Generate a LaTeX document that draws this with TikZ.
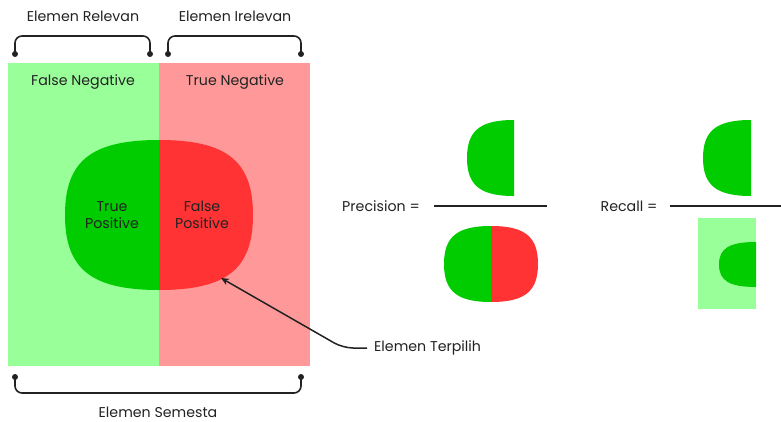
\documentclass[tikz,border=0pt]{standalone}
\usepackage{fontspec}
\setmainfont{Poppins}
\usetikzlibrary{arrows.meta}
\definecolor{lgreen}{HTML}{99FF99}
\definecolor{lred}{HTML}{FF9999}
\definecolor{dgreen}{HTML}{00CC00}
\definecolor{dred}{HTML}{FF3333}
\definecolor{ink}{HTML}{222222}
\tikzset{
  lbl/.style={text=ink, font=\fontsize{14.2}{17}\selectfont, inner sep=1pt},
  brace/.style={draw=ink, line width=1.6pt, rounded corners=7pt},
  dot/.style={circle, fill=ink, inner sep=0pt, minimum size=6pt},
}
\begin{document}
\begin{tikzpicture}[x=1pt, y=-1pt, >=stealth]
    \useasboundingbox (0,0) rectangle (781,422);

    % Latar: elemen relevan dan irelevan
    \fill[lgreen] (8,63) rectangle (159,366);
    \fill[lred] (159,63) rectangle (310,366);

    % Gumpalan elemen terpilih
    \begin{scope}[shift={(159,215)}, xscale=94, yscale=75]
        \fill[dgreen] (0,-1) .. controls (-0.72,-1) and (-1,-0.72) .. (-1,0)
            .. controls (-1,0.72) and (-0.72,1) .. (0,1) -- cycle;
        \fill[dred] (0,-1) .. controls (0.72,-1) and (1,-0.72) .. (1,0)
            .. controls (1,0.72) and (0.72,1) .. (0,1) -- cycle;
    \end{scope}

    % Label di dalam kotak
    \node[lbl] (fn) at (83,82) {False Negative};
    \node[lbl] (tn) at (235,82) {True Negative};
    \node[lbl, align=center] (tp) at (112,215) {True\\Positive};
    \node[lbl, align=center] (fp) at (202,215) {False\\Positive};

    % Kurung atas
    \node[lbl] (rel) at (83,16) {Elemen Relevan};
    \node[lbl] (irel) at (235,16) {Elemen Irelevan};
    \node[dot] (r1) at (15,54) {};
    \node[dot] (r2) at (150,54) {};
    \node[dot] (i1) at (168,54) {};
    \node[dot] (i2) at (301,54) {};
    \draw[brace] (r1.center) -- (15,36) -- (150,36) -- (r2.center);
    \draw[brace] (i1.center) -- (168,36) -- (301,36) -- (i2.center);

    % Kurung bawah
    \node[dot] (s1) at (15,377) {};
    \node[dot] (s2) at (301,377) {};
    \draw[brace] (s1.center) -- (15,393) -- (301,393) -- (s2.center);
    \node[lbl] (sem) at (158,412) {Elemen Semesta};

    % Panah ke elemen terpilih
    \node[lbl, anchor=west] (pil) at (373,348) {Elemen Terpilih};
    \coordinate (tip) at (221,278);
    \draw[-{Stealth[length=8pt,width=7pt]}, ink, line width=1.5pt, rounded corners=10pt]
        ([xshift=-6pt]pil.west) -- (343,348) -- (tip);

    % Precision
    \node[lbl] (prec) at (381,206) {Precision =};
    \draw[ink, line width=1.5pt] (434,206) -- (547,206);
    \begin{scope}[shift={(514,158)}, xscale=47, yscale=38]
        \fill[dgreen] (0,-1) .. controls (-0.72,-1) and (-1,-0.72) .. (-1,0)
            .. controls (-1,0.72) and (-0.72,1) .. (0,1) -- cycle;
    \end{scope}
    \begin{scope}[shift={(491,264)}, xscale=47, yscale=38]
        \fill[dgreen] (0,-1) .. controls (-0.72,-1) and (-1,-0.72) .. (-1,0)
            .. controls (-1,0.72) and (-0.72,1) .. (0,1) -- cycle;
        \fill[dred] (0,-1) .. controls (0.72,-1) and (1,-0.72) .. (1,0)
            .. controls (1,0.72) and (0.72,1) .. (0,1) -- cycle;
    \end{scope}

    % Recall
    \node[lbl] (rec) at (629,206) {Recall =};
    \draw[ink, line width=1.5pt] (670,206) -- (781,206);
    \begin{scope}[shift={(751,158)}, xscale=48, yscale=38]
        \fill[dgreen] (0,-1) .. controls (-0.72,-1) and (-1,-0.72) .. (-1,0)
            .. controls (-1,0.72) and (-0.72,1) .. (0,1) -- cycle;
    \end{scope}
    \fill[lgreen] (698,218) rectangle (756,309);
    \begin{scope}[shift={(756,264.5)}, xscale=37, yscale=22.5]
        \fill[dgreen] (0,-1) .. controls (-0.72,-1) and (-1,-0.72) .. (-1,0)
            .. controls (-1,0.72) and (-0.72,1) .. (0,1) -- cycle;
    \end{scope}
\end{tikzpicture}
\end{document}
